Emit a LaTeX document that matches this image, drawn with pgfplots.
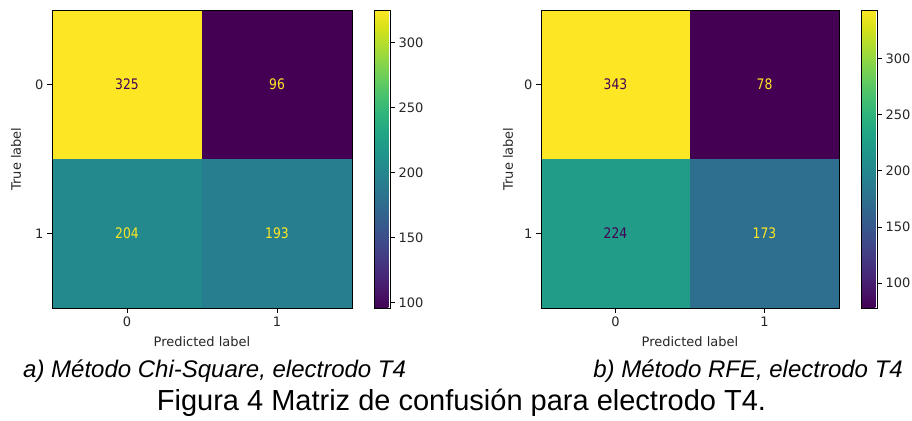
\documentclass[border=0pt]{standalone}
\usepackage{fontspec}
\usepackage{pgfplots}
\pgfplotsset{compat=1.18}
\newfontfamily\chartfam{DejaVu Sans}
\newfontfamily\cellfam{DejaVu Sans}[FakeStretch=0.85]
\newfontfamily\capfam{Liberation Sans}
\newcommand\chartfont{\chartfam\fontsize{13}{15}\selectfont}
\newcommand\cellfont{\cellfam\fontsize{14.5}{16}\selectfont}
\definecolor{vdark}{HTML}{440154}
\definecolor{vyel}{HTML}{FDE725}
\pgfplotsset{
  cmstyle/.style={
    scale only axis,
    colormap/viridis,
    enlargelimits=false,
    axis on top,
    xmin=-0.5, xmax=1.5, ymin=-0.5, ymax=1.5,
    y dir=reverse,
    xtick={0,1}, ytick={0,1},
    tick align=outside,
    xtick pos=left, ytick pos=left,
    major tick length=5pt,
    tick style={black, line width=0.8pt},
    axis line style={line width=0.8pt},
    /pgf/number format/assume math mode=true,
    tick label style={font=\chartfont, text=black!85},
    label style={font=\chartfont, text=black!85},
    xlabel={Predicted label},
    ylabel={True label},
    xlabel style={at={(axis description cs:0.5,-0.114)}, anchor=center},
    colorbar,
    colorbar style={
      scale only axis,
      width=16pt,
      at={(parent axis.north east)}, anchor=north west, xshift=13.5pt,
      ytick={100,150,200,250,300},
      ytick pos=right, yticklabel pos=right,
      tick align=outside,
      major tick length=5pt,
      tick style={black, line width=0.8pt},
      axis line style={line width=0.8pt},
      /pgf/number format/assume math mode=true,
      tick label style={font=\chartfont, text=black!85},
    },
  },
  celltext/.style={only marks, mark=none, nodes near coords, point meta=explicit symbolic,
    every node near coord/.append style={anchor=center, font=\cellfont, text=#1}},
}
\begin{document}
\begin{tikzpicture}
\useasboundingbox (0,0) rectangle (912pt,420pt);
% Left panel
\begin{axis}[cmstyle, at={(52pt,112pt)}, anchor=south west, width=300pt, height=298pt,
  point meta min=96, point meta max=325,
  ylabel style={at={(axis description cs:-0.12,0.5)}, anchor=center}]
\addplot[matrix plot*, mesh/cols=2, point meta=explicit] table[meta=c] {
x y c
0 0 325
1 0 96
0 1 204
1 1 193
};
\addplot[celltext=vdark] table[meta=c] {
x y c
0 0 325
};
\addplot[celltext=vyel] table[meta=c] {
x y c
1 0 96
0 1 204
1 1 193
};
\end{axis}
% Right panel
\begin{axis}[cmstyle, at={(541pt,112pt)}, anchor=south west, width=298pt, height=298pt,
  point meta min=78, point meta max=343,
  ylabel style={at={(axis description cs:-0.111,0.5)}, anchor=center}]
\addplot[matrix plot*, mesh/cols=2, point meta=explicit] table[meta=c] {
x y c
0 0 343
1 0 78
0 1 224
1 1 173
};
\addplot[celltext=vdark] table[meta=c] {
x y c
0 0 343
0 1 224
};
\addplot[celltext=vyel] table[meta=c] {
x y c
1 0 78
1 1 173
};
\end{axis}
% Captions
\node[anchor=base west, inner sep=0pt] at (23pt,42pt) {\capfam\itshape\fontsize{24}{28}\selectfont a) Método Chi-Square, electrodo T4};
\node[anchor=base east, inner sep=0pt] at (903pt,42pt) {\capfam\itshape\fontsize{24}{28}\selectfont b) Método RFE, electrodo T4};
\node[anchor=base, inner sep=0pt] at (461.5pt,10pt) {\capfam\fontsize{29}{33}\selectfont Figura 4 Matriz de confusión para electrodo T4.};
\end{tikzpicture}
\end{document}
